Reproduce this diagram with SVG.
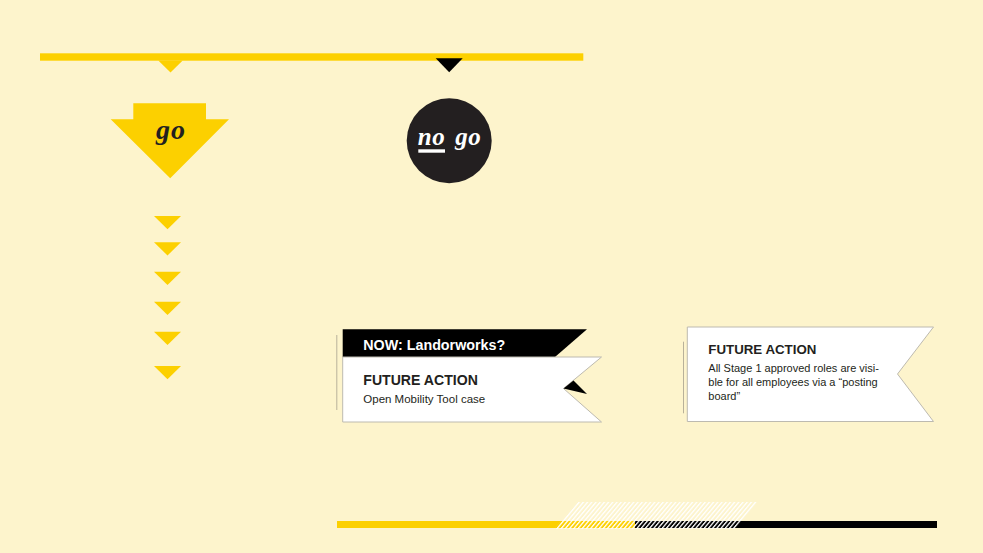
<svg xmlns="http://www.w3.org/2000/svg" width="983" height="553" viewBox="0 0 983 553">
  <defs>
    <style>
      .yellow { fill: #FCD000; }
      .dark { fill: #231F20; }
      .blk { fill: #000000; }
      .card { fill: #FFFFFF; stroke: #BDBAB0; stroke-width: 1; }
      .rule { stroke: #B8B19A; stroke-width: 1; fill: none; }
      .serif { font-family: "Liberation Serif", "Times New Roman", serif; font-weight: bold; font-style: italic; }
      .head { font-family: "Liberation Sans", Arial, sans-serif; font-weight: bold; fill: #231F20; }
      .body { font-family: "Liberation Sans", Arial, sans-serif; fill: #231F20; }
    </style>
    <pattern id="hatch" patternUnits="userSpaceOnUse" width="4.2" height="40" patternTransform="skewX(-40)">
      <rect x="0" y="0" width="1.9" height="40" fill="#FFFFFF"/>
    </pattern>
    <clipPath id="hatchClip">
      <polygon points="554,529 577,502 758,502 735,529"/>
    </clipPath>
  </defs>

  <rect x="0" y="0" width="983" height="553" fill="#FDF4CC"/>

  <g id="top-bar">
    <rect class="yellow" x="40" y="53.3" width="543.3" height="7.4"/>
  </g>

  <g id="connectors">
    <polygon class="yellow" points="158.3,60.5 182.7,60.5 170.5,72.5"/>
    <polygon class="blk" points="435.7,58.3 462.7,58.3 449.2,72.3"/>
    <polygon class="yellow" points="154,216 181,216 167.5,229.3"/>
    <polygon class="yellow" points="154,242.3 181,242.3 167.5,255.6"/>
    <polygon class="yellow" points="154,271.7 181,271.7 167.5,285"/>
    <polygon class="yellow" points="154,301.7 181,301.7 167.5,315"/>
    <polygon class="yellow" points="154,331.7 181,331.7 167.5,345"/>
    <polygon class="yellow" points="154,366 181,366 167.5,379.3"/>
  </g>

  <g id="go-node">
    <polygon class="yellow" points="133.3,103.3 206,103.3 206,119.3 229,119.3 170.2,178.3 110.7,119.3 133.3,119.3"/>
    <text class="serif" x="171" y="138.5" font-size="28" text-anchor="middle" fill="#231F20" letter-spacing="1">go</text>
  </g>

  <g id="nogo-node">
    <circle class="dark" cx="449.2" cy="140.8" r="42.5"/>
    <text class="serif" x="431.5" y="145" font-size="25" text-anchor="middle" fill="#FFFFFF" letter-spacing="0.5">no</text>
    <rect x="418.3" y="149.3" width="26.7" height="3.4" fill="#FFFFFF"/>
    <text class="serif" x="468.3" y="145" font-size="25" text-anchor="middle" fill="#FFFFFF" letter-spacing="0.5">go</text>
  </g>

  <g id="card-now">
    <line class="rule" x1="336.8" y1="335" x2="336.8" y2="410"/>
    <polygon class="blk" points="342.7,329.3 587,329.3 555,357 342.7,357"/>
    <polygon class="card" points="342.7,357 601.5,357 563.5,388.5 601.5,422 342.7,422"/>
    <polygon class="blk" points="563.5,388.5 573.5,380.5 587,394"/>
    <text x="363.3" y="349.5" font-family="'Liberation Sans', Arial, sans-serif" font-weight="bold" font-size="14.3" fill="#FFFFFF">NOW: Landorworks?</text>
    <text class="head" x="363.3" y="385.2" font-size="14.1">FUTURE ACTION</text>
    <text class="body" x="363.3" y="403" font-size="11.5">Open Mobility Tool case</text>
  </g>

  <g id="card-future">
    <line class="rule" x1="683.5" y1="341.7" x2="683.5" y2="413.3"/>
    <polygon class="card" points="687.3,327 933.5,327 897.5,374 933.5,421.5 687.3,421.5"/>
    <text class="head" x="708.3" y="354.3" font-size="13.3">FUTURE ACTION</text>
    <text class="body" font-size="11">
      <tspan x="708.3" y="371.7">All Stage 1 approved roles are visi-</tspan>
      <tspan x="708.3" y="385.8">ble for all employees via a “posting</tspan>
      <tspan x="708.3" y="400">board”</tspan>
    </text>
  </g>

  <g id="bottom-bar">
    <rect class="yellow" x="337" y="521" width="298" height="7"/>
    <rect class="blk" x="635" y="521" width="302" height="7"/>
    <rect x="540" y="500" width="230" height="32" fill="url(#hatch)" clip-path="url(#hatchClip)" opacity="0.9"/>
  </g>
</svg>
